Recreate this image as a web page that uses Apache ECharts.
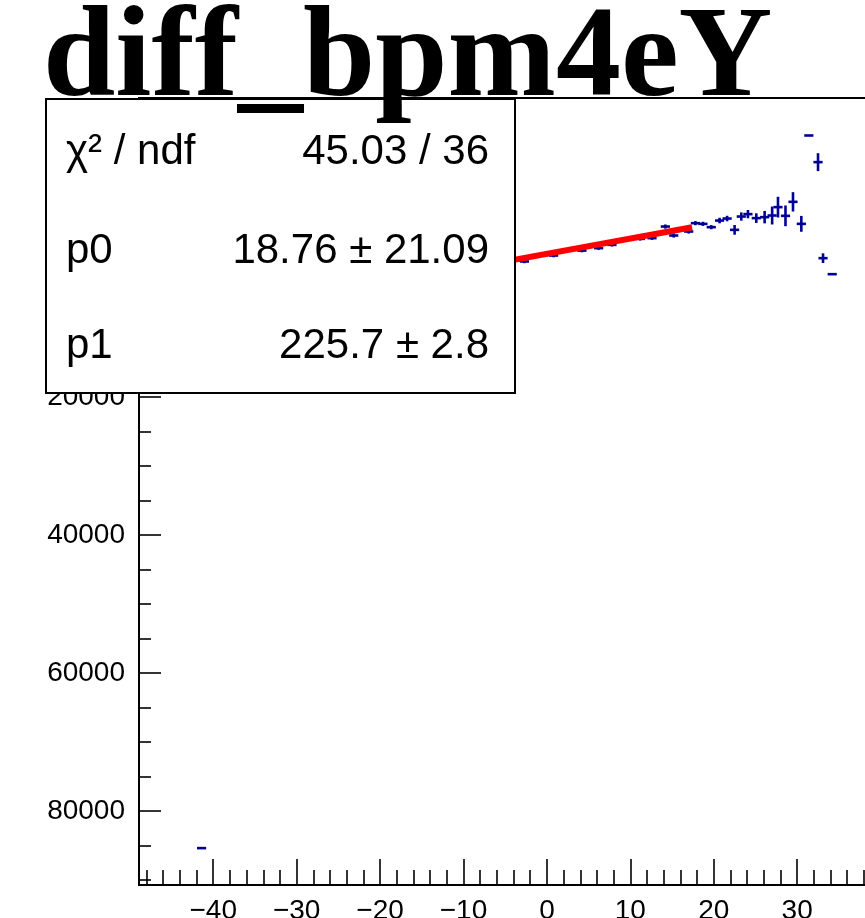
<!DOCTYPE html>
<html>
<head>
<meta charset="utf-8">
<title>diff_bpm4eY</title>
<script src="https://cdn.jsdelivr.net/npm/echarts@6/dist/echarts.min.js"></script>
<style>
html, body { margin: 0; padding: 0; background: #fff; }
#chart { width: 865px; height: 918px; }
</style>
</head>
<body>
<div id="chart"></div>
<script>
// histogram bins: centre, content, error
var histX = [-41.4,
    -3.8, -2.7, -1.8, -0.9, 0.0, 0.8, 1.7, 2.6, 3.4, 4.2, 5.1, 6.2, 7.0, 7.8, 8.7, 9.6, 10.5, 11.2, 12.0, 12.6, 13.3, 14.2, 15.2, 16.1, 17.0,
    17.8, 18.7, 19.7, 20.7, 21.6, 22.5, 23.3, 24.1, 25.1, 26.1, 27.0, 27.7, 28.6, 29.5, 30.5, 31.4, 32.5, 33.1, 34.2];
var histY = [85360,
    200, 380, -250, -500, -600, -480, -1100, -1250, -1450, -1200, -1850, -1550, -2250, -2030, -2650, -2850, -3050, -2900, -3400, -3000, -3650, -4680, -3380, -4250, -3960,
    -5170, -5070, -4590, -5550, -5840, -4200, -6130, -6480, -5900, -6040, -6280, -7490, -6230, -8260, -5070, -17870, -14010, -100, 2220];
var histErr = [0,
    250, 250, 250, 250, 250, 250, 250, 250, 250, 250, 250, 250, 250, 250, 250, 250, 250, 250, 250, 250, 300, 300, 300, 300, 300,
    300, 300, 300, 400, 400, 700, 600, 600, 700, 900, 1300, 1500, 1500, 1400, 1150, 0, 1300, 700, 0];

// pol1 fit drawn across the fit range
var fitX = [-20, 17.4];
var fitY = [3700, -4570];

var xMajorTicks = [-40, -30, -20, -10, 0, 10, 20, 30, 40];
var xMinorTicks = [-48, -46, -44, -42, -38, -36, -34, -32, -28, -26, -24, -22, -18, -16, -14, -12, -8, -6, -4, -2,
    2, 4, 6, 8, 12, 14, 16, 18, 22, 24, 26, 28, 32, 34, 36, 38, 42, 44, 46, 48];
var yMajorTicks = [-20000, 0, 20000, 40000, 60000, 80000];
var yMinorTicks = [-15000, -10000, -5000, 5000, 10000, 15000, 25000, 30000, 35000, 45000, 50000, 55000,
    65000, 70000, 75000, 85000, 90000];

var statNames = ['χ² / ndf', 'p0', 'p1'];
var statValues = ['45.03 / 36', '18.76 ± 21.09', '225.7 ± 2.8'];

var X_MIN = -48.9, X_MAX = 50;
var Y_MIN = -23300, Y_MAX = 90700;
var BIN_HALF = 0.55;
var SANS = '"Liberation Sans", Arial, Helvetica, sans-serif';

// ROOT style "E" marker: bin width bar + vertical error bar
function renderErrorCross(params, api) {
    var x = api.value(0), y = api.value(1), e = api.value(2);
    var l = api.coord([x - BIN_HALF, y]);
    var r = api.coord([x + BIN_HALF, y]);
    var t = api.coord([x, y - e]);
    var b = api.coord([x, y + e]);
    var st = { stroke: '#000096', lineWidth: 2.6 };
    var kids = [{ type: 'line', shape: { x1: l[0], y1: l[1], x2: r[0], y2: r[1] }, style: st }];
    if (e > 0) {
        kids.push({ type: 'line', shape: { x1: t[0], y1: t[1], x2: b[0], y2: b[1] }, style: st });
    }
    return { type: 'group', children: kids };
}

var histData = histX.map(function (x, i) { return [x, histY[i], histErr[i]]; });
var fitData = fitX.map(function (x, i) { return [x, fitY[i]]; });

// stats box
var statElems = [{
    type: 'rect', z: 100,
    shape: { x: 46, y: 99, width: 469, height: 294 },
    style: { fill: '#fff', stroke: '#000', lineWidth: 2 }
}];
var rowY = [152, 251, 346];
statNames.forEach(function (name, i) {
    statElems.push({
        type: 'text', z: 101,
        style: { text: name, x: 66, y: rowY[i], fontSize: 42, fontFamily: SANS, fill: '#000', align: 'left', verticalAlign: 'middle' }
    });
    statElems.push({
        type: 'text', z: 101,
        style: { text: statValues[i], x: 489, y: rowY[i], fontSize: 42, fontFamily: SANS, fill: '#000', align: 'right', verticalAlign: 'middle' }
    });
});

var tickLine = { color: '#000', width: 1.6 };
var noLine = { show: false, onZero: false };

var option = {
    animation: false,
    backgroundColor: '#fff',
    title: {
        text: 'diff_bpm4eY',
        left: 43, top: -4, padding: 0, z: 200,
        textStyle: { fontFamily: '"Liberation Serif", "Times New Roman", serif', fontWeight: 'bold', fontSize: 130, color: '#000' }
    },
    grid: {
        left: 139, top: 98, bottom: 33, width: 825,
        outerBoundsMode: 'none', containLabel: false,
        show: true, borderColor: '#000', borderWidth: 2, backgroundColor: 'transparent'
    },
    xAxis: [{
        type: 'value', position: 'bottom', min: X_MIN, max: X_MAX,
        splitLine: { show: false }, axisLine: noLine,
        axisTick: { inside: true, length: 26, lineStyle: tickLine, customValues: xMajorTicks },
        axisLabel: {
            customValues: xMajorTicks, margin: 12, fontSize: 28, fontFamily: SANS, color: '#000',
            formatter: function (v) { return String(v).replace('-', '\u2212'); }
        }
    }, {
        type: 'value', position: 'bottom', min: X_MIN, max: X_MAX,
        splitLine: { show: false }, axisLine: noLine, axisLabel: { show: false },
        axisTick: { inside: true, length: 15, lineStyle: tickLine, customValues: xMinorTicks }
    }],
    yAxis: [{
        type: 'value', position: 'left', inverse: true, min: Y_MIN, max: Y_MAX,
        splitLine: { show: false }, axisLine: noLine,
        axisTick: { inside: true, length: 22, lineStyle: tickLine, customValues: yMajorTicks },
        axisLabel: {
            customValues: yMajorTicks, margin: 14, fontSize: 28, fontFamily: SANS, color: '#000',
            formatter: function (v) { return String(Math.abs(v)); }
        }
    }, {
        type: 'value', position: 'left', inverse: true, min: Y_MIN, max: Y_MAX,
        splitLine: { show: false }, axisLine: noLine, axisLabel: { show: false },
        axisTick: { inside: true, length: 12, lineStyle: tickLine, customValues: yMinorTicks }
    }],
    series: [{
        type: 'custom', name: 'diff_bpm4eY',
        xAxisIndex: 0, yAxisIndex: 0,
        renderItem: renderErrorCross,
        encode: { x: 0, y: 1 },
        data: histData, z: 3
    }, {
        type: 'line', name: 'fit',
        xAxisIndex: 0, yAxisIndex: 0,
        data: fitData, symbol: 'none',
        lineStyle: { color: '#ff0000', width: 6 }, z: 4
    }],
    graphic: statElems
};

var chart = echarts.init(document.getElementById('chart'));
chart.setOption(option);
</script>
</body>
</html>
